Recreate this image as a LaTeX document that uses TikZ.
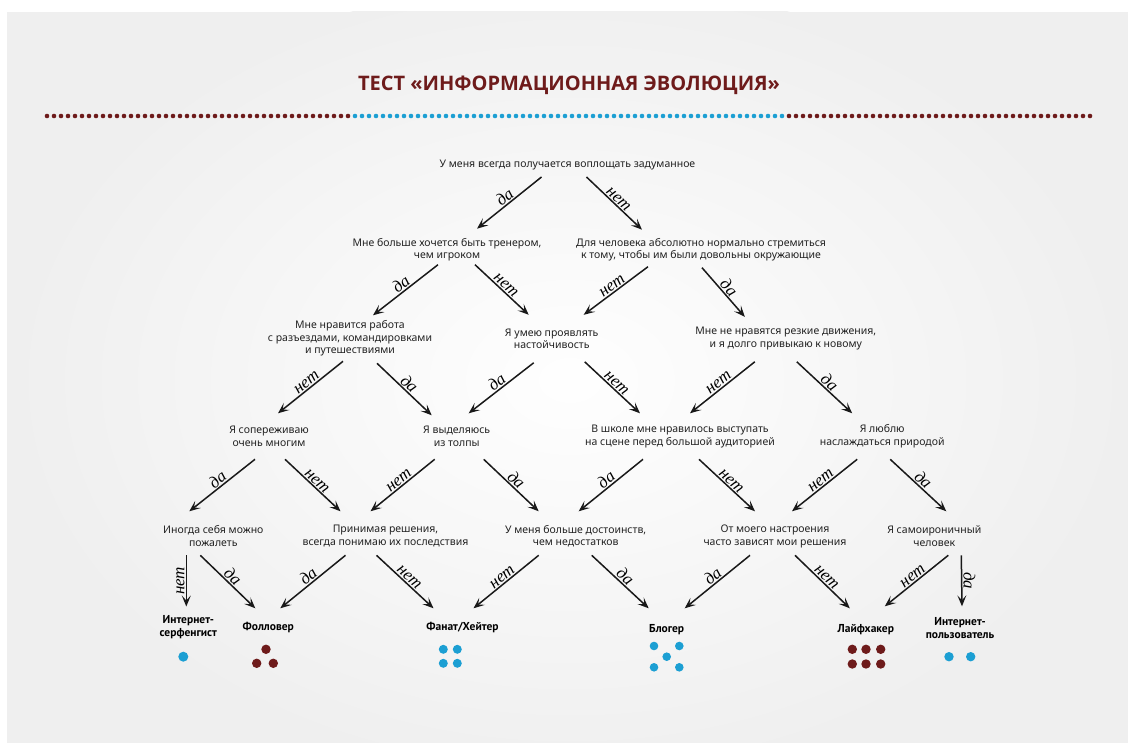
\documentclass[tikz,border=0pt]{standalone}
\usepackage{fontspec}
\setmainfont{Noto Sans}
\newfontfamily\titlefont{Open Sans}
\newfontfamily\resfont{PT Sans}
\newfontfamily\yesnofont{Liberation Serif}
\usetikzlibrary{arrows.meta,calc}
\definecolor{wine}{HTML}{6E1B1B}
\definecolor{sky}{HTML}{1C9FD3}
\definecolor{paper}{HTML}{EFEFEF}
\definecolor{ink}{HTML}{222222}

\begin{document}
\begin{tikzpicture}[x=1pt,y=-1pt]
	\tikzset{question/.style = {align=center,inner sep=0pt,text=ink,font=\fontsize{10.5}{12.7}\selectfont}}
	
	\tikzset{result/.style = {align=center,inner sep=0pt,font=\resfont\bfseries\fontsize{11.5}{13}\selectfont}}
	
	\tikzset{yesno/.style = {font=\yesnofont\itshape\fontsize{17}{17}\selectfont,inner sep=1pt}}
	
	\tikzset{arr/.style = {draw=black!90,line width=1.5pt,-{Stealth[length=11pt,width=9pt,inset=5pt]}}}
	
	% background
	\useasboundingbox (0,0) rectangle (1128,743);
	\fill[white] (0,0) rectangle (1128,743);
	\fill[paper] (7,12) rectangle (1128,743);
	\begin{scope}
	\clip (7,12) rectangle (1128,743);
	\shade[inner color=white!96!paper,outer color=paper] (570,380) ellipse (560 and 400);
	\end{scope}
	
	% title
	\node[text=wine,font=\titlefont\bfseries\fontsize{20}{24}\selectfont] (title) at (569,85) {ТЕСТ «ИНФОРМАЦИОННАЯ ЭВОЛЮЦИЯ»};
	\foreach \i in {0,...,43} \fill[wine] (47+7*\i,116) circle (2.3);
	\foreach \i in {0,...,61} \fill[sky] (355+7*\i,116) circle (2.3);
	\foreach \i in {0,...,43} \fill[wine] (789+7*\i,116) circle (2.3);
	
	% questions
	\node[question] (q0) at (567.5,165) {У меня всегда получается воплощать задуманное};
	
	\node[question] (q1a) at (447,249.7) {Мне больше хочется быть тренером,\\чем игроком};
	\node[question] (q1b) at (701,249.7) {Для человека абсолютно нормально стремиться\\к тому, чтобы им были довольны окружающие};
	
	\node[question] (q2a) at (350,338.3) {Мне нравится работа\\с разъездами, командировками\\и путешествиями};
	\node[question] (q2b) at (551.7,338.8) {Я умею проявлять\\настойчивость};
	\node[question] (q2c) at (785.8,338.8) {Мне не нравятся резкие движения,\\и я долго привыкаю к новому};
	
	\node[question] (q3a) at (269,436.3) {Я сопереживаю\\очень многим};
	\node[question] (q3b) at (456.7,436.3) {Я выделяюсь\\из толпы};
	\node[question] (q3c) at (680,436.3) {В школе мне нравилось выступать\\на сцене перед большой аудиторией};
	\node[question] (q3d) at (882.2,436.3) {Я люблю\\наслаждаться природой};
	
	\node[question] (q4a) at (213.3,536.3) {Иногда себя можно\\пожалеть};
	\node[question] (q4b) at (385.5,536.3) {Принимая решения,\\всегда понимаю их последствия};
	\node[question] (q4c) at (575.7,536.3) {У меня больше достоинств,\\чем недостатков};
	\node[question] (q4d) at (775,536.3) {От моего настроения\\часто зависят мои решения};
	\node[question] (q4e) at (934.3,536.3) {Я самоироничный\\человек};
	
	% results
	\node[result] (r1) at (188.3,627.5) {Интернет-\\серфенгист};
	\node[result] (r2) at (268.3,627.3) {Фолловер};
	\node[result] (r3) at (462.5,627.3) {Фанат/Хейтер};
	\node[result] (r4) at (666.7,629.3) {Блогер};
	\node[result] (r5) at (865.8,629.3) {Лайфхакер};
	\node[result] (r6) at (960,628.3) {Интернет-\\пользователь};
	
	\fill[sky] (183.3,656.7) circle (5);
	\foreach \p in {(266,649.3),(256.7,663.3),(273.3,663.3)} \fill[wine] \p circle (4.7);
	\foreach \p in {(443.3,649.3),(457.3,649.3),(443.3,663.3),(457.3,663.3)} \fill[sky] \p circle (4.5);
	\foreach \p in {(654,646),(679.3,646),(666.7,656.7),(654,667.3),(679.3,667.3)} \fill[sky] \p circle (4.3);
	\foreach \p in {(852.3,649.3),(866,649.3),(880.7,649.3),(852.3,664),(866,664),(880.7,664)} \fill[wine] \p circle (4.7);
	\foreach \p in {(949,656.7),(970.7,656.7)} \fill[sky] \p circle (4.7);
	
	%arrows
	\begin{scope}[every edge/.style={arr}, every node/.style={yesno}]
	\draw ($(q0)+(-26,12)$) edge node[sloped,above]{да} ($(q1a)+(30,-21)$);
	\draw ($(q0)+(19,12)$) edge node[sloped,above]{нет} ($(q1b)+(-59,-20)$);
	
	\draw ($(q1a)+(-9,15)$) edge node[sloped,above]{да} ($(q2a)+(23,-23)$);
	\draw ($(q1a)+(28,15)$) edge node[sloped,above]{нет} ($(q2b)+(-23,-24)$);
	\draw ($(q1b)+(-53,17)$) edge node[sloped,above]{нет} ($(q2b)+(32,-24)$);
	\draw ($(q1b)+(1,18)$) edge node[sloped,above]{да} ($(q2c)+(-41,-22)$);
	
	\draw ($(q2a)+(-7,23)$) edge node[sloped,above]{нет} ($(q3a)+(9,-23)$);
	\draw ($(q2a)+(27,25)$) edge node[sloped,above]{да} ($(q3b)+(-25,-21)$);
	\draw ($(q2b)+(-18,24)$) edge node[sloped,above]{да} ($(q3b)+(12,-23)$);
	\draw ($(q2b)+(33,23)$) edge node[sloped,above]{нет} ($(q3c)+(-40,-23)$);
	\draw ($(q2c)+(-31,23)$) edge node[sloped,above]{нет} ($(q3c)+(10,-23)$);
	\draw ($(q2c)+(11,23)$) edge node[sloped,above]{да} ($(q3d)+(-30,-23)$);
	
	\draw ($(q3a)+(-14,23)$) edge node[sloped,above]{да} ($(q4a)+(-24,-25)$);
	\draw ($(q3a)+(16,23)$) edge node[sloped,above]{нет} ($(q4b)+(-45,-25)$);
	\draw ($(q3b)+(-22,23)$) edge node[sloped,above]{нет} ($(q4b)+(-15,-25)$);
	\draw ($(q3b)+(27,23)$) edge node[sloped,above]{да} ($(q4c)+(-37,-25)$);
	\draw ($(q3c)+(-37,23)$) edge node[sloped,above]{да} ($(q4c)+(3,-25)$);
	\draw ($(q3c)+(19,23)$) edge node[sloped,above]{нет} ($(q4d)+(-20,-25)$);
	\draw ($(q3d)+(-25,23)$) edge node[sloped,above]{нет} ($(q4d)+(17,-25)$);
	\draw ($(q3d)+(8,23)$) edge node[sloped,above]{да} ($(q4e)+(12,-25)$);
	
	\draw ($(q4a)+(-27,19)$) edge node[rotate=90,anchor=south]{нет} ($(r1)+(-2,-21)$);
	\draw ($(q4a)+(-13,19)$) edge node[sloped,above]{да} ($(r2)+(-13,-19)$);
	\draw ($(q4b)+(-40,19)$) edge node[sloped,above]{да} ($(r2)+(12,-19)$);
	\draw ($(q4b)+(-9,19)$) edge node[sloped,above]{нет} ($(r3)+(-29,-19)$);
	\draw ($(q4c)+(-37,19)$) edge node[sloped,above]{нет} ($(r3)+(11,-19)$);
	\draw ($(q4c)+(16,19)$) edge node[sloped,above]{да} ($(r4)+(-18,-21)$);
	\draw ($(q4d)+(-25,19)$) edge node[sloped,above]{да} ($(r4)+(18,-21)$);
	\draw ($(q4d)+(20,19)$) edge node[sloped,above]{нет} ($(r5)+(-16,-21)$);
	\draw ($(q4e)+(14,19)$) edge node[sloped,above]{нет} ($(r5)+(19,-23)$);
	\draw ($(q4e)+(27,19)$) edge node[rotate=-90,anchor=south]{да} ($(r6)+(2,-22)$);
	\end{scope}
\end{tikzpicture}
\end{document}
